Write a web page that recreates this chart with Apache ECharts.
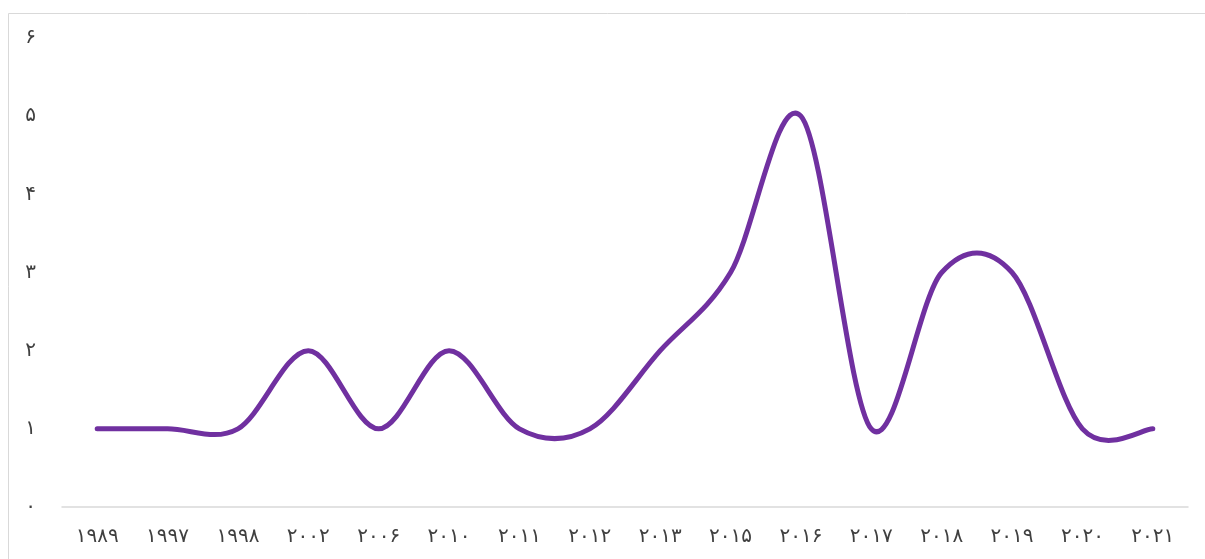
<!DOCTYPE html>
<html>
<head>
<meta charset="utf-8">
<script src="https://cdn.jsdelivr.net/npm/echarts@6/dist/echarts.min.js"></script>
<style>
html,body{margin:0;padding:0;background:#fff;}
#c{width:1205px;height:559px;}
</style>
</head>
<body>
<div id="c"></div>
<script>
const categories = ["۱۹۸۹","۱۹۹۷","۱۹۹۸","۲۰۰۲","۲۰۰۶","۲۰۱۰","۲۰۱۱","۲۰۱۲","۲۰۱۳","۲۰۱۵","۲۰۱۶","۲۰۱۷","۲۰۱۸","۲۰۱۹","۲۰۲۰","۲۰۲۱"];
const values = [1,1,1,2,1,2,1,1,2,3,5,1,3,3,1,1];
const yTickLabels = ["۰","۱","۲","۳","۴","۵","۶"];

const chart = echarts.init(document.getElementById('c'));

function renderSmooth(params, api){
  if (params.dataIndex !== 0) return null;
  const p = values.map((v,i)=>api.coord([i,v]));
  const n = p.length;
  let d = 'M' + p[0][0] + ' ' + p[0][1];
  for (let i=0;i<n-1;i++){
    const a = p[Math.max(i-1,0)], b = p[i], c = p[i+1], e = p[Math.min(i+2,n-1)];
    const c1x = b[0] + (c[0]-a[0])/6, c1y = b[1] + (c[1]-a[1])/6;
    const c2x = c[0] - (e[0]-b[0])/6, c2y = c[1] - (e[1]-b[1])/6;
    d += ' C' + c1x + ' ' + c1y + ' ' + c2x + ' ' + c2y + ' ' + c[0] + ' ' + c[1];
  }
  return {
    type:'path',
    shape:{pathData:d},
    style:{fill:null,stroke:'#7030A0',lineWidth:5,lineCap:'round',lineJoin:'round'}
  };
}

chart.setOption({
  animation:false,
  backgroundColor:'#fff',
  graphic:[{type:'rect',shape:{x:8.5,y:13.5,width:1300,height:600},style:{fill:'none',stroke:'#d9d9d9',lineWidth:1},silent:true}],
  grid:{left:62,right:17,top:38,bottom:52},
  xAxis:{
    type:'category',
    data:categories,
    boundaryGap:true,
    axisLine:{lineStyle:{color:'#d9d9d9',width:1.5}},
    axisTick:{show:false},
    axisLabel:{color:'#404040',fontSize:20,fontFamily:'DejaVu Sans',margin:20,interval:0}
  },
  yAxis:{
    type:'value',min:0,max:6,interval:1,
    axisLine:{show:false},axisTick:{show:false},
    splitLine:{show:false},
    axisLabel:{color:'#404040',fontSize:20,fontFamily:'DejaVu Sans',margin:26,
      formatter:function(v){return yTickLabels[v];}}
  },
  series:[{
    type:'custom',
    data:values.map((v,i)=>[i,v]),
    encode:{x:0,y:1},
    clip:false,
    renderItem:renderSmooth
  }]
});
</script>
</body>
</html>
